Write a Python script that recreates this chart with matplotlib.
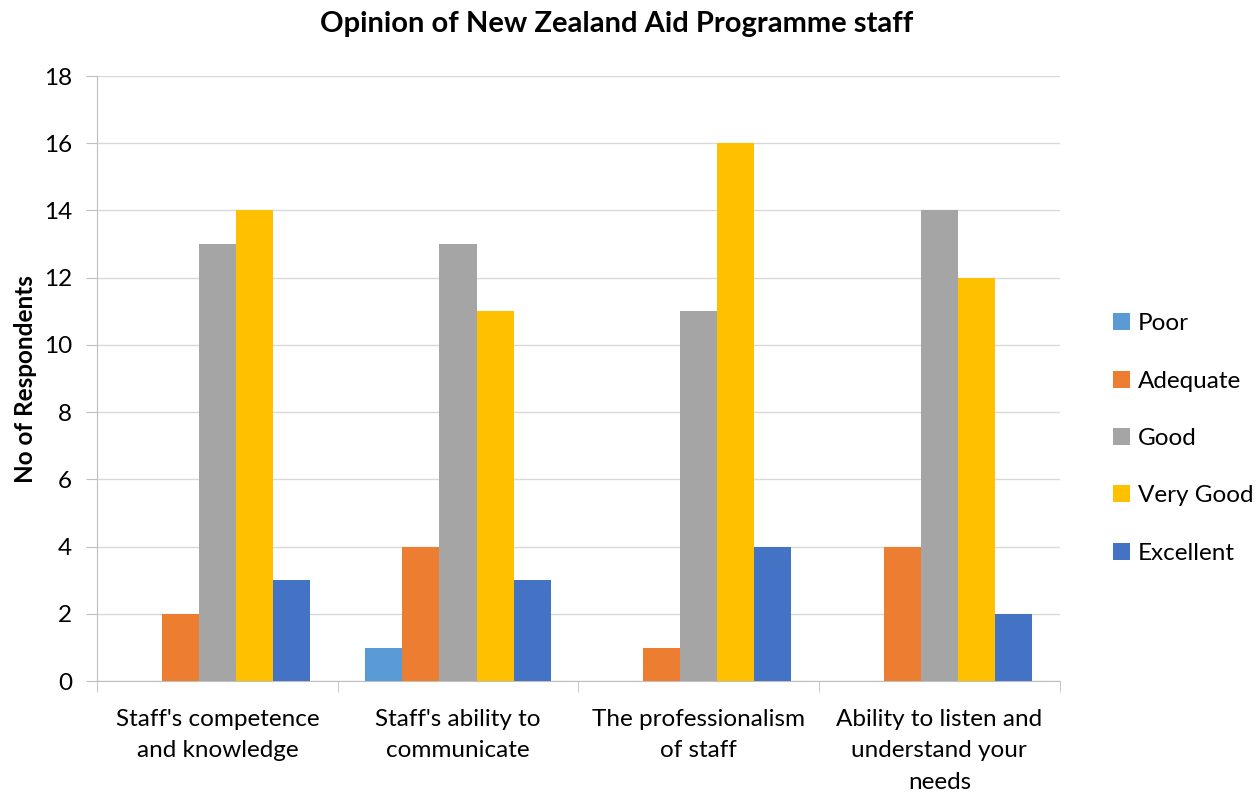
import matplotlib
matplotlib.use("Agg")
import matplotlib.pyplot as plt
import numpy as np

categories = ["Staff's competence\nand knowledge", "Staff's ability to\ncommunicate",
              "The professionalism\nof staff", "Ability to listen and\nunderstand your\nneeds"]
series_names = ["Poor", "Adequate", "Good", "Very Good", "Excellent"]
poor = [0, 1, 0, 0]
adequate = [2, 4, 1, 4]
good = [13, 13, 11, 14]
very_good = [14, 11, 16, 12]
excellent = [3, 3, 4, 2]
colors = ["#5B9BD5", "#ED7D31", "#A5A5A5", "#FFC000", "#4472C4"]

plt.rcParams['font.family'] = ['Lato', 'DejaVu Sans']
FS = 17.5

fig = plt.figure(figsize=(12.6, 7.92), dpi=100)
ax = fig.add_axes([0.077, 0.140, 0.764, 0.764])

data = [poor, adequate, good, very_good, excellent]
x = np.arange(len(categories))
w = 0.154
for i, (name, vals, c) in enumerate(zip(series_names, data, colors)):
    ax.bar(x + (i - 2) * w, vals, width=w, color=c, label=name, zorder=3)

ax.set_xlim(-0.5, len(categories) - 0.5)
ax.set_ylim(0, 18)
ax.set_yticks(range(0, 19, 2))
ax.yaxis.grid(True, color="#D9D9D9", linewidth=1, zorder=0)
ax.set_axisbelow(True)
for s in ["top", "right"]:
    ax.spines[s].set_visible(False)
for s in ["left", "bottom"]:
    ax.spines[s].set_color("#BFBFBF")
ax.set_xticks(x)
ax.set_xticklabels(categories, fontsize=FS, linespacing=1.62)
ax.tick_params(axis='x', length=0, pad=20)
ax.set_xticks(np.arange(-0.5, len(categories), 1), minor=True)
ax.tick_params(axis='x', which='minor', length=8, color="#BFBFBF")
ax.tick_params(axis='y', labelsize=FS, length=8, color="#BFBFBF", pad=10)
ax.set_ylabel("No of Respondents", fontsize=FS, fontweight='bold', labelpad=5)
fig.text(617 / 1260, 1 - 24 / 792, "Opinion of New Zealand Aid Programme staff",
         fontsize=21, fontweight='bold', ha='center', va='center')

leg = ax.legend(loc='center left', bbox_to_anchor=(1.033, 0.401), frameon=False,
                fontsize=FS, handlelength=0.7, handleheight=0.7, labelspacing=1.5,
                handletextpad=0.3)

fig.savefig("out.png", dpi=100)
